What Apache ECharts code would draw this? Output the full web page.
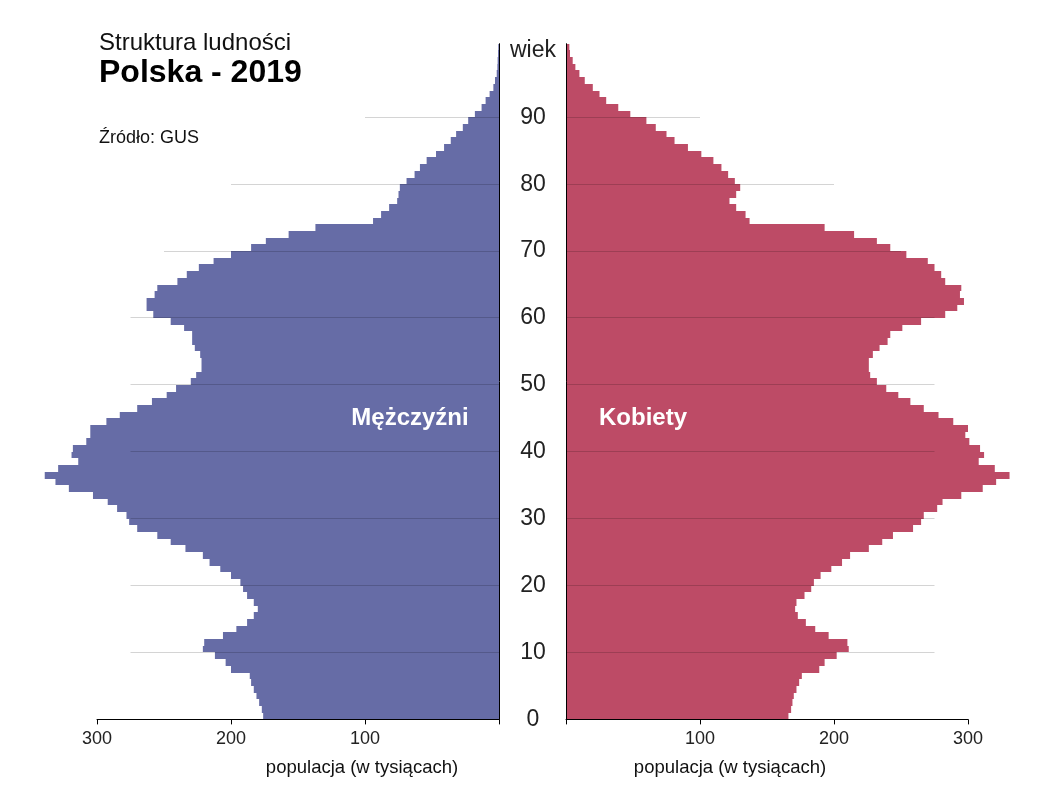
<!DOCTYPE html>
<html><head><meta charset="utf-8">
<script src="https://cdn.jsdelivr.net/npm/echarts@6/dist/echarts.min.js"></script>
<style>html,body{margin:0;padding:0;background:#fff}#c{width:1047px;height:802px}</style>
</head><body><div id="c"></div>
<script>
// population in thousands, index = age (0..100)
const males = [176,177,179,181,183,185,186,200,204,212,
  221,220,206,196,188,183,180,183,188,191,
  193,200,208,216,221,234,245,255,270,276,
  278,285,292,303,321,331,339,329,314,319,
  318,308,305,305,293,283,270,259,248,241,
  230,226,222,222,223,227,229,229,235,245,
  258,263,263,257,255,240,233,224,213,200,
  185,174,157,137,94,88,82,76,75,74,
  69,63,59,54,47,41,36,32,27,23,
  18,13,10,7,4.2,3,1.7,1.2,1.0,0.7,0.5];
const females = [166,168,169,170,172,174,176,189,193,202,
  211,210,196,186,179,173,171,172,178,183,
  185,190,198,206,212,226,236,244,259,265,
  267,277,281,295,311,321,331,320,308,312,
  309,301,298,300,289,278,267,257,248,239,
  232,227,226,226,229,234,240,242,251,265,
  283,292,297,294,295,283,280,275,270,254,
  242,232,215,193,137,134,127,122,127,130,
  126,121,116,110,101,91,81,75,67,60,
  48,39,30,25,20,14,10,7,5,3,2.5];
const gridAges = [10,20,30,40,50,60,70,80,90];
const gridLen  = [275,275,275,275,275,275,250,200,100];
const xTickValues = [0,100,200,300];

const FONT = '"Liberation Sans", Arial, sans-serif';
const chart = echarts.init(document.getElementById('c'), null, {renderer:'canvas'});

function barRenderer(color){
  return function(params, api){
    const v = api.value(0), a = api.value(1);
    const p1 = api.coord([0, a]);
    const p2 = api.coord([v, a + 1]);
    const yTop = Math.round(p2[1]), yBot = Math.round(p1[1]);
    return {type:'rect', shape:{x:Math.min(p1[0],p2[0]), y:yTop, width:Math.abs(p2[0]-p1[0]), height:yBot-yTop},
            style:{fill:color}};
  };
}
function gridRenderer(params, api){
  const v = api.value(0), a = api.value(1);
  const p1 = api.coord([0, a]);
  const p2 = api.coord([v, a]);
  const y = Math.floor(p1[1]) + 0.5;
  return {type:'line', shape:{x1:p1[0], y1:y, x2:p2[0], y2:y},
          style:{stroke:'rgba(0,0,0,0.17)', lineWidth:1}};
}

const gridTop = 43.7, gridH = 675.7;
function xAxis(idx, inverse){
  return {type:'value', gridIndex:idx, min:0, max:300, interval:100, inverse:inverse, z:5,
    axisLine:{show:true, lineStyle:{color:'#000', width:1}},
    axisTick:{show:true, length:5, lineStyle:{color:'#000'}},
    axisLabel:{margin:11, fontSize:18, color:'#222', fontFamily:FONT,
      formatter:v => (xTickValues.indexOf(v) > 0 ? String(v) : '')},
    splitLine:{show:false}};
}

chart.setOption({
  animation:false,
  backgroundColor:'#fff',
  grid:[
    {left:97, width:402, top:gridTop, height:gridH},
    {left:566, width:402, top:gridTop, height:gridH}
  ],
  xAxis:[xAxis(0,true), xAxis(1,false)],
  yAxis:[
    {type:'value', gridIndex:0, min:0, max:101, interval:10, position:'right', z:5,
      axisLine:{show:true, lineStyle:{color:'#000', width:1}}, axisTick:{show:false},
      axisLabel:{show:false}, splitLine:{show:false}},
    {type:'value', gridIndex:1, min:0, max:101, interval:10, position:'left', z:5,
      axisLine:{show:true, lineStyle:{color:'#000', width:1}}, axisTick:{show:false},
      axisLabel:{show:true, align:'center', margin:33, fontSize:23, color:'#222', fontFamily:FONT,
        formatter:v => (v === 100 ? 'wiek' : (v % 10 === 0 && v < 100 ? String(v) : ''))},
      splitLine:{show:false}}
  ],
  series:[
    {type:'custom', name:'Mężczyźni', xAxisIndex:0, yAxisIndex:0, z:2, clip:false,
      renderItem:barRenderer('#666CA6'), data:males.map((v,i)=>[v,i])},
    {type:'custom', name:'Kobiety', xAxisIndex:1, yAxisIndex:1, z:2, clip:false,
      renderItem:barRenderer('#BD4B66'), data:females.map((v,i)=>[v,i])},
    {type:'custom', xAxisIndex:0, yAxisIndex:0, z:3, silent:true,
      renderItem:gridRenderer, data:gridAges.map((a,i)=>[gridLen[i],a])},
    {type:'custom', xAxisIndex:1, yAxisIndex:1, z:3, silent:true,
      renderItem:gridRenderer, data:gridAges.map((a,i)=>[gridLen[i],a])}
  ],
  graphic:[
    {type:'text', x:99, y:43, z:10, style:{text:'Struktura ludności', font:'24px '+FONT, fill:'#111', textAlign:'left', textVerticalAlign:'middle'}},
    {type:'text', x:99, y:73, z:10, style:{text:'Polska - 2019', font:'bold 32px '+FONT, fill:'#000', textAlign:'left', textVerticalAlign:'middle'}},
    {type:'text', x:99, y:138, z:10, style:{text:'Źródło: GUS', font:'18px '+FONT, fill:'#111', textAlign:'left', textVerticalAlign:'middle'}},
    {type:'text', x:410, y:418, z:10, style:{text:'Mężczyźni', font:'bold 24px '+FONT, fill:'#fff', textAlign:'center', textVerticalAlign:'middle'}},
    {type:'text', x:643, y:418, z:10, style:{text:'Kobiety', font:'bold 24px '+FONT, fill:'#fff', textAlign:'center', textVerticalAlign:'middle'}},
    {type:'text', x:362, y:768, z:10, style:{text:'populacja (w tysiącach)', font:'18.5px '+FONT, fill:'#111', textAlign:'center', textVerticalAlign:'middle'}},
    {type:'text', x:730, y:768, z:10, style:{text:'populacja (w tysiącach)', font:'18.5px '+FONT, fill:'#111', textAlign:'center', textVerticalAlign:'middle'}}
  ]
});
</script></body></html>
